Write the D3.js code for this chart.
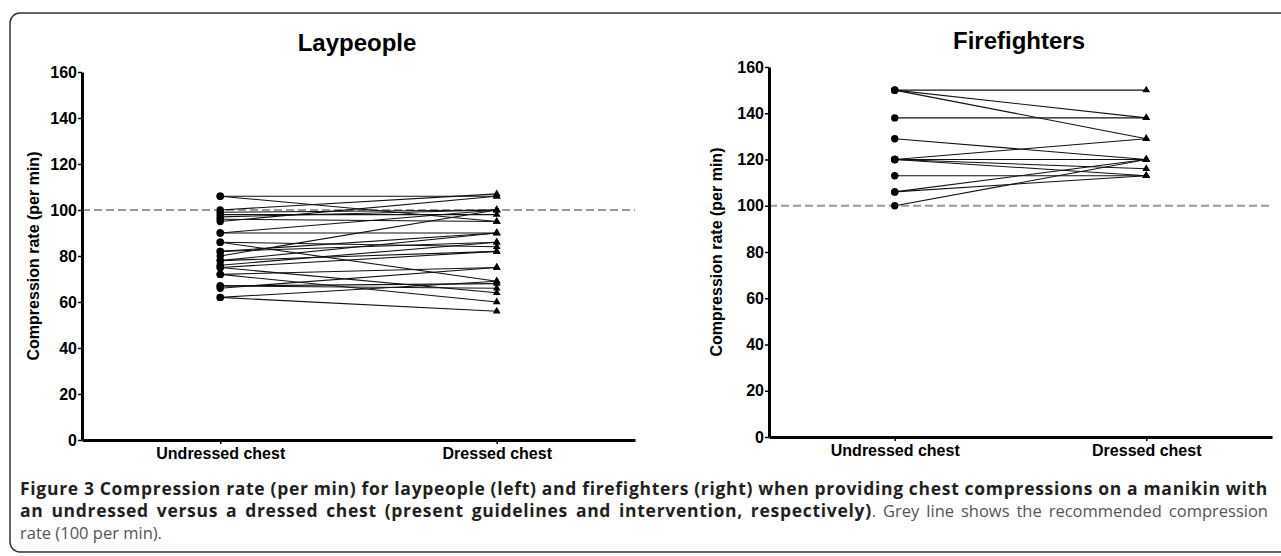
<!DOCTYPE html>
<html lang="en">
<head>
  <meta charset="UTF-8">
  <title>Compression rate – laypeople vs firefighters</title>
  <script src="https://d3js.org/d3.v7.min.js"></script>
  <style>
    body {
      margin: 0;
      background: #fff;
      width: 1281px;
      height: 556px;
      overflow: hidden;
      position: relative;
    }
    svg {
      position: absolute;
      left: 0;
      top: 0;
    }
    .caption {
      position: absolute;
      left: 20px;
      font-family: 'Open Sans', sans-serif;
      font-size: 16.5px;
      color: #555;
      white-space: nowrap;
    }
    .caption b {
      color: #231f20;
      font-size: 17.5px;
      letter-spacing: 0.7px;
    }
  </style>
</head>
<body>
  <svg width="1281" height="556"></svg>

  <!-- caption, one div per line so the line breaks match -->
  <div class="caption just" style="top:476px"><b>Figure 3 Compression rate (per min) for laypeople (left) and firefighters (right) when providing chest compressions on a manikin with</b></div>
  <div class="caption just" style="top:498px"><b>an undressed versus a dressed chest (present guidelines and intervention, respectively)</b>. Grey line shows the recommended compression</div>
  <div class="caption" style="top:521px">rate (100 per min).</div>

  <script>
    // Data (compressions per minute)
    const categories = ["Undressed chest", "Dressed chest"];
    const yTicks = [0, 20, 40, 60, 80, 100, 120, 140, 160];
    const refRate = 100;

    // Laypeople, paired: undressed[i] -> dressed[i]
    const layUndressed = [106, 106, 100, 99, 98, 97, 96, 95, 90, 90, 86, 86, 82, 82, 80, 78, 78, 76, 75, 75, 72, 72, 67, 67, 66, 62, 62];
    const layDressed   = [106, 95, 107, 100, 98, 100, 95, 106, 100, 90, 84, 69, 86, 90, 100, 90, 82, 86, 64, 82, 60, 75, 68, 66, 75, 69, 56];

    // Firefighters, paired
    const fireUndressed = [150, 150, 150, 138, 129, 120, 120, 120, 120, 113, 106, 106, 100];
    const fireDressed   = [150, 138, 129, 138, 120, 129, 120, 116, 113, 113, 120, 113, 120];

    const panels = [
      {title: "Laypeople", before: layUndressed, after: layDressed,
       x0: 82, x1: 635, yTop: 72, yBottom: 440, titleX: 357, titleY: 51, labelX: 33},
      {title: "Firefighters", before: fireUndressed, after: fireDressed,
       x0: 769, x1: 1272, yTop: 67, yBottom: 437, titleX: 1019, titleY: 49, labelX: 716}
    ];

    const svg = d3.select("svg");
    const font = "'Liberation Sans', Arial, sans-serif";

    // outer frame (runs off the right edge like the scan)
    svg.append("rect")
      .attr("x", 10).attr("y", 13)
      .attr("width", 1300).attr("height", 539)
      .attr("rx", 10)
      .attr("fill", "none")
      .attr("stroke", "#333")
      .attr("stroke-width", 1.5);

    panels.forEach(p => {
      const g = svg.append("g");

      const x = d3.scalePoint()
        .domain(categories)
        .range([p.x0, p.x1])
        .padding(0.5);

      const y = d3.scaleLinear()
        .domain([0, 160])
        .range([p.yBottom, p.yTop]);

      // title
      g.append("text")
        .attr("x", p.titleX)
        .attr("y", p.titleY)
        .attr("text-anchor", "middle")
        .attr("font-family", font)
        .attr("font-weight", "bold")
        .attr("font-size", 24)
        .text(p.title);

      // reference line
      g.append("line")
        .attr("x1", p.x0).attr("x2", p.x1)
        .attr("y1", y(refRate)).attr("y2", y(refRate))
        .attr("stroke", "#999")
        .attr("stroke-width", 2)
        .attr("stroke-dasharray", "8,4");

      // y axis
      const yAxis = g.append("g")
        .attr("transform", `translate(${p.x0},0)`)
        .call(d3.axisLeft(y).tickValues(yTicks).tickSize(4).tickSizeOuter(0).tickPadding(1));

      // x axis
      const xAxis = g.append("g")
        .attr("transform", `translate(0,${p.yBottom})`)
        .call(d3.axisBottom(x).tickSize(4).tickSizeOuter(0).tickPadding(4));

      [yAxis, xAxis].forEach(a => {
        a.select(".domain").attr("stroke", "#000").attr("stroke-width", 3);
        a.selectAll(".tick line").attr("stroke", "#000").attr("stroke-width", 1.5);
        a.selectAll("text")
          .attr("font-family", font)
          .attr("font-weight", "bold")
          .attr("fill", "#000");
      });
      yAxis.selectAll("text").attr("font-size", 16);
      xAxis.selectAll("text").attr("font-size", 16);

      // y axis label
      g.append("text")
        .attr("transform", `translate(${p.labelX},${(p.yTop + p.yBottom) / 2}) rotate(-90)`)
        .attr("text-anchor", "middle")
        .attr("dy", "0.35em")
        .attr("font-family", font)
        .attr("font-weight", "bold")
        .attr("font-size", 16)
        .text("Compression rate (per min)");

      // paired lines
      const pairs = p.before.map((b, i) => ({before: b, after: p.after[i]}));
      g.selectAll("line.pair")
        .data(pairs)
        .enter()
        .append("line")
        .attr("class", "pair")
        .attr("x1", x(categories[0]))
        .attr("y1", d => y(d.before))
        .attr("x2", x(categories[1]))
        .attr("y2", d => y(d.after))
        .attr("stroke", "#111")
        .attr("stroke-width", 1.1);

      // undressed: dots
      g.selectAll("circle.before")
        .data(p.before)
        .enter()
        .append("circle")
        .attr("class", "before")
        .attr("cx", x(categories[0]))
        .attr("cy", d => y(d))
        .attr("r", 3.7)
        .attr("fill", "#000");

      // dressed: triangles
      g.selectAll("path.after")
        .data(p.after)
        .enter()
        .append("path")
        .attr("class", "after")
        .attr("d", d3.symbol(d3.symbolTriangle).size(26))
        .attr("transform", d => `translate(${x(categories[1])},${y(d)})`)
        .attr("fill", "#000");
    });

    // justify the first two caption lines by spreading the word gaps
    const lineWidth = 1248;
    d3.selectAll(".caption.just").each(function() {
      const gaps = (this.textContent.match(/ /g) || []).length;
      const w = this.getBoundingClientRect().width;
      this.style.wordSpacing = ((lineWidth - w) / gaps) + "px";
    });
  </script>
</body>
</html>
